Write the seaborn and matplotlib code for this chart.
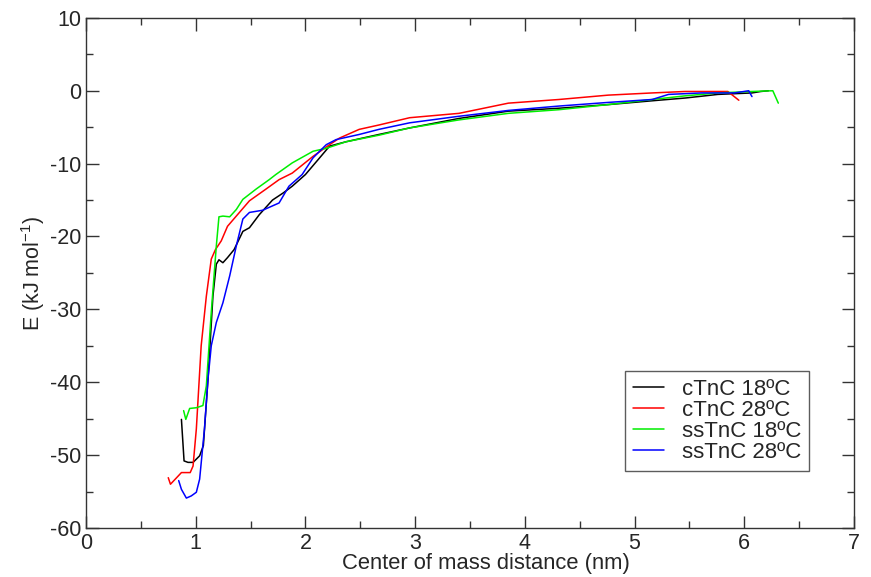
import matplotlib
matplotlib.use("Agg")
import matplotlib.pyplot as plt
from matplotlib.ticker import MultipleLocator
import seaborn as sns
import pandas as pd

# values
ctnc18_x = [0.87, 0.894, 0.93, 0.976, 1.036, 1.07, 1.112, 1.157, 1.188, 1.212, 1.248, 1.29,
            1.35, 1.43, 1.49, 1.58, 1.70, 1.80, 1.88, 2.0, 2.13, 2.22, 2.37, 2.67, 2.95,
            3.40, 3.85, 4.31, 4.76, 5.22, 5.46, 5.76, 6.07, 6.15, 6.22]
ctnc18_y = [-45.1, -50.8, -51.0, -51.0, -50.1, -48.7, -39.6, -28.2, -23.8, -23.2, -23.6, -22.9,
            -21.8, -19.3, -18.8, -17.0, -15.0, -14.0, -13.1, -11.5, -9.2, -7.6, -7.0, -6.0, -5.1,
            -3.8, -2.8, -2.4, -1.9, -1.3, -1.0, -0.5, -0.3, -0.1, 0.0]

ctnc28_x = [0.75, 0.77, 0.87, 0.95, 0.976, 1.006, 1.05, 1.097, 1.142, 1.18, 1.233, 1.29,
            1.37, 1.49, 1.64, 1.76, 1.88, 2.07, 2.22, 2.31, 2.49, 2.67, 2.95, 3.40, 3.85,
            4.31, 4.76, 5.16, 5.46, 5.76, 5.85, 5.95]
ctnc28_y = [-53.1, -54.0, -52.4, -52.4, -51.5, -46.4, -35.0, -28.2, -23.1, -21.8, -20.6, -18.6,
            -17.2, -15.1, -13.5, -12.2, -11.3, -9.0, -7.4, -6.5, -5.3, -4.7, -3.7, -3.1, -1.7,
            -1.2, -0.6, -0.3, -0.1, -0.1, -0.1, -1.3]

sstnc18_x = [0.89, 0.91, 0.945, 1.006, 1.066, 1.097, 1.142, 1.188, 1.212, 1.248, 1.31, 1.37,
             1.43, 1.55, 1.67, 1.73, 1.88, 2.07, 2.19, 2.37, 2.67, 2.95, 3.40, 3.85, 4.31,
             4.76, 5.16, 5.46, 5.76, 6.07, 6.26, 6.31]
sstnc18_y = [-43.9, -45.1, -43.6, -43.5, -43.2, -40.5, -30.4, -21.3, -17.3, -17.2, -17.3, -16.3,
             -14.9, -13.5, -12.2, -11.5, -9.9, -8.3, -7.9, -7.0, -6.1, -5.1, -4.0, -3.1, -2.6,
             -1.9, -1.2, -0.7, -0.3, -0.1, 0.0, -1.7]

sstnc28_x = [0.845, 0.87, 0.915, 0.96, 1.006, 1.036, 1.08, 1.112, 1.142, 1.188, 1.248, 1.31,
             1.37, 1.43, 1.49, 1.61, 1.70, 1.76, 1.85, 1.97, 2.07, 2.19, 2.28, 2.49, 2.67,
             2.95, 3.40, 3.85, 4.31, 4.76, 5.16, 5.31, 5.61, 5.91, 6.04, 6.07]
sstnc28_y = [-53.5, -54.7, -55.9, -55.6, -55.1, -53.3, -46.4, -39.6, -35.0, -31.8, -29.1, -25.4,
             -21.3, -17.6, -16.7, -16.4, -15.8, -15.4, -13.1, -11.5, -9.2, -7.4, -6.7, -6.0, -5.3,
             -4.4, -3.5, -2.7, -2.1, -1.6, -1.2, -0.5, -0.3, -0.3, 0.0, -0.8]

labels = ["cTnC 18ºC", "cTnC 28ºC", "ssTnC 18ºC", "ssTnC 28ºC"]
colors = ["black", "#ff0000", "#00ee00", "#0000ff"]

frames = []
for lab, xs, ys in zip(labels,
                       [ctnc18_x, ctnc28_x, sstnc18_x, sstnc28_x],
                       [ctnc18_y, ctnc28_y, sstnc18_y, sstnc28_y]):
    frames.append(pd.DataFrame({"x": xs, "y": ys, "series": lab}))
df = pd.concat(frames, ignore_index=True)

sns.set_style("ticks")
plt.rcParams["font.family"] = ["Liberation Sans", "DejaVu Sans"]
plt.rcParams["mathtext.fontset"] = "custom"
plt.rcParams["mathtext.rm"] = "Liberation Sans"
plt.rcParams["mathtext.default"] = "regular"
plt.rcParams["axes.unicode_minus"] = False

fig = plt.figure(figsize=(8.71, 5.77), dpi=100)
ax = fig.add_axes([0.0987, 0.085, 0.8818, 0.884])

sns.lineplot(data=df, x="x", y="y", hue="series", palette=colors, hue_order=labels,
             estimator=None, sort=False, lw=1.1, ax=ax)

ax.set_xlim(0, 7)
ax.set_ylim(-60, 10)
ax.xaxis.set_major_locator(MultipleLocator(1))
ax.xaxis.set_minor_locator(MultipleLocator(0.5))
ax.yaxis.set_major_locator(MultipleLocator(10))
ax.yaxis.set_minor_locator(MultipleLocator(5))
ax.tick_params(which="both", direction="in", top=True, right=True, labelsize=15.5,
               color="#333333", width=1)
ax.tick_params(which="major", length=9)
ax.tick_params(which="minor", length=5)
for s in ax.spines.values():
    s.set_color("#333333")
    s.set_linewidth(1)

ax.set_xlabel("Center of mass distance (nm)", fontsize=15.8)
ax.xaxis.set_label_coords(0.521, -0.05, transform=ax.transAxes)
ax.xaxis.label.set_verticalalignment("top")
ax.set_ylabel("E (kJ mol$^{-1}$)", fontsize=15.5, labelpad=2)

leg = ax.legend(loc="lower right", bbox_to_anchor=(0.941, 0.112), borderaxespad=0,
                fontsize=16, frameon=True, fancybox=False, handlelength=1.4,
                borderpad=0.35, labelspacing=0.0, handletextpad=0.8)
leg.get_frame().set_edgecolor("#333333")
leg.get_frame().set_linewidth(1)

fig.savefig("out.png", dpi=100)
